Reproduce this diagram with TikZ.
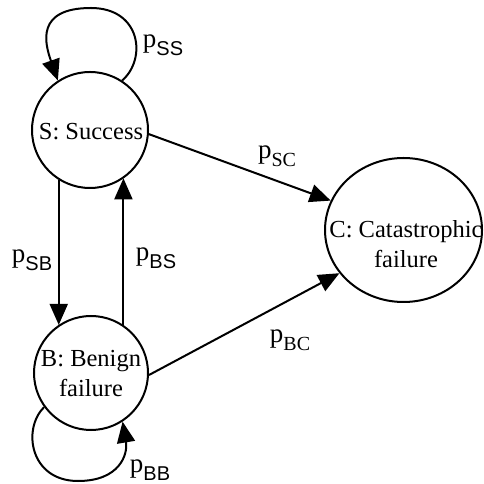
\documentclass[tikz,border=0pt]{standalone}
\usepackage{fontspec}
\setmainfont{Liberation Serif}
\setsansfont{Liberation Sans}
\usetikzlibrary{arrows.meta,shapes.geometric}
\newcommand\psub[2][\sffamily]{p\raisebox{-0.3em}{\fontsize{20}{20}\selectfont #1#2}}
\begin{document}
\begin{tikzpicture}[x=1pt,y=1pt,
  state/.style={draw, line width=2pt, circle, inner sep=0pt},
  lbl/.style={font=\fontsize{24.5}{30}\selectfont, align=center, inner sep=0pt},
  plbl/.style={font=\fontsize{27}{27}\selectfont, inner sep=0pt},
  arr/.style={line width=2pt, -{Triangle[length=21pt,width=18pt]}},
  ]
\useasboundingbox (0,0) rectangle (483,484);
\node[state, minimum size=116pt] (S) at (90,354) {};
\node[state, minimum size=114pt] (B) at (91,111) {};
\node[draw, ellipse, line width=2pt, minimum width=157pt, minimum height=144pt, inner sep=0pt] (C) at (403.5,254) {};
\node[lbl] (St) at (91,352.5) {S: Success};
\node[lbl] (Bt) at (91,110.5) {B: Benign\\failure};
\node[lbl] (Ct) at (406,240) {C: Catastrophic\\failure};
% edges
\draw[arr] (S.57) .. controls (147,425) and (141,476) .. (91,476) .. controls (35,476) and (45,440) .. (S.123);
\draw[arr] (S.238) -- (S.238 |- B.124);
\draw[arr] (B.56) -- (B.56 |- S.-55);
\draw[arr] (S.-4) -- (C.158);
\draw[arr] (B.-2) -- (C.214);
\draw[arr] (B.216) .. controls (22,55) and (30,3) .. (78,3) .. controls (120,3) and (128,30) .. (B.-57);
% labels
\node[plbl] (pss) at (163,439) {\psub{SS}};
\node[plbl] (psc) at (277,328) {\psub[\rmfamily]{SC}};
\node[plbl] (psb) at (32,224) {\psub{SB}};
\node[plbl] (pbs) at (156,226) {\psub{BS}};
\node[plbl] (pbc) at (290,144) {\psub[\rmfamily]{BC}};
\node[plbl] (pbb) at (150,14) {\psub{BB}};
\end{tikzpicture}
\end{document}
